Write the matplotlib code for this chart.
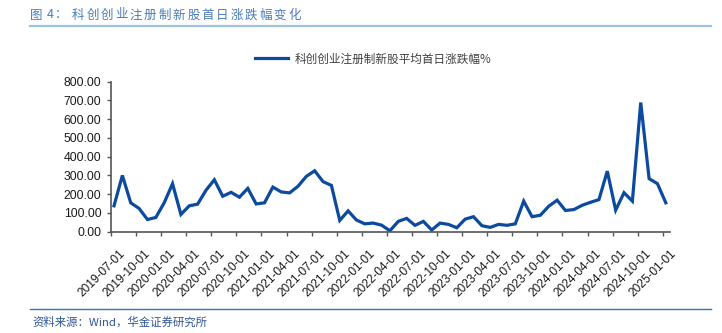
import matplotlib

matplotlib.use("Agg")
import matplotlib.pyplot as plt
from matplotlib.lines import Line2D

plt.rcParams['font.family'] = ['Liberation Sans', 'Noto Sans CJK SC', 'DejaVu Sans']

# monthly first-day return (%), 2019-07 .. 2025-01
months = [f"{2019 + (6 + i) // 12}-{(6 + i) % 12 + 1:02d}-01" for i in range(67)]
first_day_pct = [
    138, 300, 154, 124, 65, 76, 154, 256, 92, 138, 147, 221,
    277, 189, 210, 184, 231, 148, 154, 238, 212, 207, 242, 295,
    325, 267, 247, 60, 111, 62, 42, 46, 35, 5, 55, 71,
    34, 55, 9, 46, 39, 21, 67, 80, 32, 23, 39, 34,
    42, 163, 80, 88, 136, 168, 113, 118, 141, 157, 171, 323,
    115, 208, 163, 689, 283, 256, 154,
]
tick_idx = list(range(0, 67, 3))
tick_labels = [months[i] for i in tick_idx]
y_ticks = [0, 100, 200, 300, 400, 500, 600, 700, 800]

title_head = ["图", "4", "："]
title_body = "科创创业注册制新股首日涨跌幅变化"
legend_label = "科创创业注册制新股平均首日涨跌幅%"
source_text = "资料来源：Wind，华金证券研究所"

W, H = 722, 333
fig = plt.figure(figsize=(W / 100, H / 100), dpi=100)
ax = fig.add_axes([111 / W, (H - 231.7) / H, (670 - 111) / W, 150 / H])

line_color = "#0b4a9e"
ax.plot(range(len(first_day_pct)), first_day_pct, color=line_color, lw=2.3,
        solid_joinstyle="miter")

ax.set_xlim(-0.36, 66.5)
ax.set_ylim(0, 800)
ax.set_yticks(y_ticks)
ax.set_yticklabels([f"{v:.2f}" for v in y_ticks], fontsize=8.8)
# ticks sit a little left of each month's point, as in the source chart
tick_pos = [i - 0.36 for i in tick_idx]
ax.set_xticks(tick_pos)
ax.set_xticklabels([])
# labels hang a bit right of and below their ticks
for x, lab in zip(tick_pos, tick_labels):
    ax.annotate(lab, xy=(x, 0), xycoords=("data", "axes fraction"),
                xytext=(5.5, -11.5), textcoords="offset points",
                rotation=45, ha="right", va="top", rotation_mode="anchor",
                fontsize=8.6, color="#1a1a1a")

for side in ("top", "right"):
    ax.spines[side].set_visible(False)
for side in ("left", "bottom"):
    ax.spines[side].set_color("#555555")
    ax.spines[side].set_linewidth(1.2)
ax.tick_params(axis="both", colors="#555555", labelcolor="#1a1a1a",
               length=3, width=1.0, pad=2)
ax.tick_params(axis="y", pad=4)

# legend above the plot
handle = Line2D([], [], color=line_color, lw=2.3)
fig.legend([handle], [legend_label], loc="center left",
           bbox_to_anchor=(245 / W, 1 - 59 / H), frameon=False,
           handlelength=2.8, handletextpad=0.6,
           prop={"family": ["Noto Sans CJK SC"], "size": 8.4}, labelcolor="#404040")

# title with wide character pitch
title_color = "#4a7cbf"
for x, ch in zip([30, 47, 55], title_head):
    fig.text(x / W, 1 - 15 / H, ch, color=title_color, fontsize=9,
             va="center", ha="left", family=["Noto Sans CJK SC", "DejaVu Sans"])
for i, ch in enumerate(title_body):
    fig.text((72 + i * 14.4) / W, 1 - 15 / H, ch, color=title_color, fontsize=9,
             va="center", ha="left", family=["Noto Sans CJK SC"])
fig.add_artist(Line2D([30 / W, 711 / W], [1 - 25.5 / H] * 2, color="#9cc2e5", lw=1.6))

# source footer
fig.add_artist(Line2D([30 / W, 711 / W], [1 - 309 / H] * 2, color="#2e75b6", lw=1.0))
fig.text(32 / W, 1 - 322 / H, source_text, color="#2f5597", fontsize=8.2,
         va="center", ha="left", family=["Noto Sans CJK SC", "DejaVu Sans"])

fig.savefig("out.png", dpi=100)
